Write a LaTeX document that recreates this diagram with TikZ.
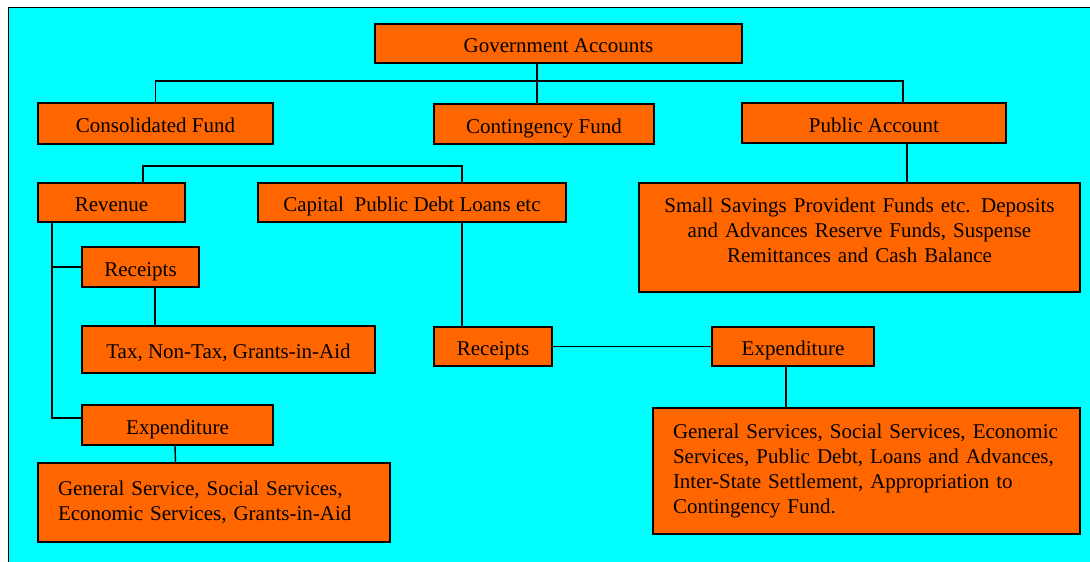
\documentclass[tikz,border=0pt]{standalone}
\usepackage{fontspec}
\setmainfont{Liberation Serif}
\usetikzlibrary{positioning}
\definecolor{accorange}{HTML}{FF6600}
\definecolor{sheet}{HTML}{00FFFF}
\tikzset{
  box/.style={draw, line width=1.3pt, fill=accorange, inner sep=0pt, outer sep=0pt, font=\fontsize{21}{25}\selectfont},
  head/.style={box, text height=18pt, text depth=0pt},
  link/.style={line width=1.4pt}
}

\begin{document}
\begin{tikzpicture}[x=1pt, y=-1pt]
  \useasboundingbox (0,0) rectangle (1090,562);
  \fill[white] (0,0) rectangle (1090,562);
  \draw[line width=1pt, fill=sheet] (8,7) rectangle (1100,575);

  % top level
  \node[head, minimum width=367pt, minimum height=39pt] (govt-accounts) at (558.5,43.5) {Government Accounts};
  \node[head, minimum width=235pt, minimum height=41pt, below=40pt of govt-accounts, xshift=-403pt] (consolidated-fund) {Consolidated Fund};
  \node[head, minimum width=220pt, minimum height=40pt, below=41pt of govt-accounts, xshift=-14.5pt] (contingency-fund) {Contingency Fund};
  \node[head, minimum width=264pt, minimum height=40pt, below=40pt of govt-accounts, xshift=315.5pt] (public-account) {Public Account};
  \coordinate (split) at ([xshift=-21.5pt, yshift=-18pt]govt-accounts.south);
  \draw[link] ([xshift=-21.5pt]govt-accounts.south) -- ([xshift=-7pt]contingency-fund.north);
  \draw[link] (consolidated-fund.north) |- (split) -| ([xshift=29pt]public-account.north);

  % public account
  \node[box, minimum width=441pt, minimum height=109pt, text width=420pt, align=center, below=40pt of public-account, xshift=-14.5pt] (deposits) {Small Savings Provident Funds etc. Deposits\\and Advances Reserve Funds, Suspense\\Remittances and Cash Balance\rule[-14pt]{0pt}{14pt}};
  \draw[link] ([xshift=33pt]public-account.south) -- ([xshift=47.5pt]deposits.north);

  % consolidated fund
  \node[head, minimum width=147pt, minimum height=39pt, below=39pt of consolidated-fund, xshift=-44pt] (revenue) {Revenue};
  \node[head, minimum width=308pt, minimum height=39pt, right=73pt of revenue] (capital) {Capital~ Public Debt Loans etc};
  \draw[link] ([xshift=31.5pt]revenue.north) |- ([xshift=50pt, yshift=17pt]capital.north) -- ([xshift=50pt]capital.north);

  % revenue side
  \node[head, minimum width=117pt, minimum height=40pt, below=25pt of revenue, xshift=29pt] (rev-receipts) {Receipts};
  \node[head, minimum width=293pt, minimum height=47pt, below=39pt of rev-receipts, xshift=88pt] (rev-tax) {Tax, Non-Tax, Grants-in-Aid};
  \node[head, minimum width=191pt, minimum height=40pt, below=32pt of rev-tax, xshift=-51pt] (rev-expenditure) {Expenditure};
  \node[box, minimum width=352pt, minimum height=79pt, text width=312pt, inner xsep=20pt, align=left, below=18pt of rev-expenditure, xshift=36.5pt] (rev-services) {General Service, Social Services,\\Economic Services, Grants-in-Aid};
  \draw[link] ([xshift=14pt]revenue.south west) |- ([yshift=7pt]rev-expenditure.west);
  \draw[link] (rev-receipts.west) -| ([xshift=14pt]revenue.south west);
  \draw[link] ([xshift=14.5pt]rev-receipts.south) -- ([xshift=-73.5pt]rev-tax.north);
  \draw[link] ([xshift=-2.5pt]rev-expenditure.south) -- ([xshift=-38.5pt]rev-services.north);

  % capital side
  \node[head, minimum width=118pt, minimum height=39pt, below=105pt of capital, xshift=81pt] (cap-receipts) {Receipts};
  \node[head, minimum width=162pt, minimum height=39pt, right=160pt of cap-receipts] (cap-expenditure) {Expenditure};
  \node[box, minimum width=427pt, minimum height=126pt, text width=387pt, inner xsep=20pt, align=left, below=42pt of cap-expenditure, xshift=73.5pt] (cap-services) {General Services, Social Services, Economic\\Services, Public Debt, Loans and Advances,\\Inter-State Settlement, Appropriation to\\Contingency Fund.};
  \draw[link] ([xshift=50pt]capital.south) -- ([xshift=-31pt]cap-receipts.north);
  \draw[link] (cap-receipts) -- (cap-expenditure);
  \draw[link] ([xshift=-7pt]cap-expenditure.south) -- ([xshift=-80.5pt]cap-services.north);
\end{tikzpicture}
\end{document}
